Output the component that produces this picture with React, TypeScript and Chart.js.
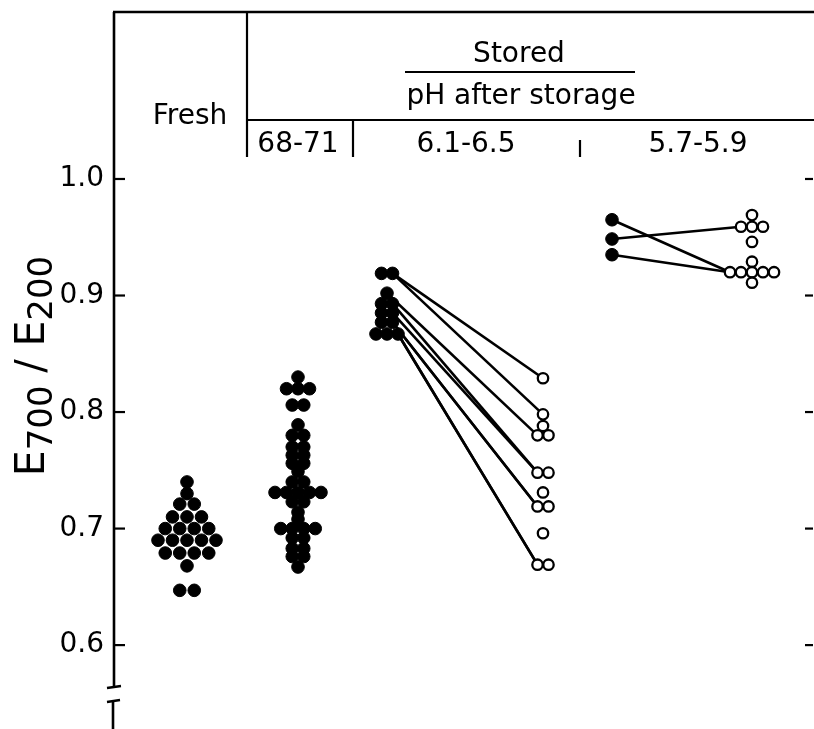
import { useEffect, useRef } from "react";
import { Chart, registerables } from "chart.js";

Chart.register(...registerables);

const FONT = "'DejaVu Sans', 'Liberation Sans', sans-serif";

// Ratio axis
const yTicks = [0.6, 0.7, 0.8, 0.9, 1.0];
const Y_MIN = 0.528;
const Y_MAX = 1.1433;

// Column headings
const freshLabel = "Fresh";
const storedLabel = "Stored";
const phLabel = "pH after storage";
const phGroups = ["68-71", "6.1-6.5", "5.7-5.9"];

// Each row: [E700/E200 value, number of samples at that value]
type Row = [number, number];

const freshRows: Row[] = [
  [0.74, 1], [0.73, 1], [0.721, 2], [0.71, 3], [0.7, 4],
  [0.69, 5], [0.679, 4], [0.668, 1], [0.647, 2],
];

const ph68Rows: Row[] = [
  [0.83, 1], [0.82, 3], [0.806, 2], [0.789, 1], [0.78, 2], [0.77, 2],
  [0.763, 2], [0.756, 2], [0.749, 1], [0.74, 2], [0.731, 5], [0.723, 2],
  [0.714, 1], [0.708, 1], [0.7, 4], [0.692, 2], [0.683, 2], [0.676, 2],
  [0.667, 1],
];

const ph61FreshRows: Row[] = [
  [0.919, 2], [0.902, 1], [0.893, 2], [0.885, 2], [0.877, 2], [0.867, 3],
];
const ph61StoredRows: Row[] = [
  [0.829, 1], [0.798, 1], [0.788, 1], [0.78, 2], [0.748, 2],
  [0.731, 1], [0.719, 2], [0.696, 1], [0.669, 2],
];
// Paired samples (fresh -> stored)
const ph61PairFresh = [0.919, 0.919, 0.902, 0.893, 0.885, 0.877, 0.877, 0.867, 0.867];
const ph61PairStored = [0.829, 0.798, 0.78, 0.748, 0.748, 0.719, 0.719, 0.669, 0.669];

const ph57FreshRows: Row[] = [[0.965, 1], [0.9485, 1], [0.935, 1]];
const ph57StoredRows: Row[] = [
  [0.969, 1], [0.959, 3], [0.946, 1], [0.929, 1], [0.92, 5], [0.911, 1],
];
const ph57PairFresh = [0.965, 0.9485, 0.935];
const ph57PairStored = [0.92, 0.959, 0.92];

// Horizontal layout of the columns (x units of the hidden linear axis)
const X_MAX = 699;
const COL = {
  fresh: { c: 73, gap: 14.5 },
  ph68: { c: 184, gap: 11.5 },
  ph61a: { c: 273, gap: 11 },
  ph61b: { c: 429, gap: 11 },
  ph57a: { c: 498, gap: 11 },
  ph57b: { c: 638, gap: 11 },
};

function rowPoints(col: { c: number; gap: number }, rows: Row[]) {
  const pts: { x: number; y: number }[] = [];
  rows.forEach(([v, n]) => {
    for (let i = 0; i < n; i++) pts.push({ x: col.c + (i - (n - 1) / 2) * col.gap, y: v });
  });
  return pts;
}

function rowEdge(col: { c: number; gap: number }, rows: Row[], v: number, side: number) {
  const r = rows.find(([rv]) => Math.abs(rv - v) < 1e-9);
  const n = r ? r[1] : 1;
  return col.c + side * ((n - 1) / 2) * col.gap;
}

function pairLines(
  colA: { c: number; gap: number }, rowsA: Row[], valsA: number[],
  colB: { c: number; gap: number }, rowsB: Row[], valsB: number[]
) {
  return valsA.map((a, i) => ({
    type: "scatter" as const,
    data: [
      { x: rowEdge(colA, rowsA, a, 1), y: a },
      { x: rowEdge(colB, rowsB, valsB[i], -1), y: valsB[i] },
    ],
    showLine: true,
    borderColor: "#000",
    borderWidth: 2.6,
    pointRadius: 0,
    order: 2,
  }));
}

const filled = {
  backgroundColor: "#000",
  borderColor: "#000",
  borderWidth: 1,
  pointRadius: 6.3,
  order: 0,
};
const open = {
  backgroundColor: "#fff",
  borderColor: "#000",
  borderWidth: 2.3,
  pointRadius: 5.2,
  order: 0,
};

const framePlugin = {
  id: "frame",
  afterDraw(chart: any) {
    const ctx: CanvasRenderingContext2D = chart.ctx;
    const { left, right, top } = chart.chartArea;
    const y = chart.scales.y;
    ctx.save();
    ctx.strokeStyle = "#000";
    ctx.fillStyle = "#000";
    ctx.lineCap = "butt";

    const line = (x1: number, y1: number, x2: number, y2: number, w = 2) => {
      ctx.lineWidth = w;
      ctx.beginPath();
      ctx.moveTo(x1, y1);
      ctx.lineTo(x2, y2);
      ctx.stroke();
    };

    // Heading box
    line(left - 1, top, right + 1, top, 2.4);
    line(247, top, 247, 157, 2.2);
    line(247, 120, right + 1, 120, 2.2);
    line(353, 120, 353, 157, 2.2);
    line(580, 140, 580, 157, 2.2);
    line(405, 72, 635, 72, 2.2);

    // Value axis with break
    line(left, top, left, 686, 2.6);
    line(107, 688, 121, 686, 2.4);
    line(107, 702, 120, 700, 2.4);
    line(left - 1, 701, left - 1, 729, 2.6);

    // Tick marks, inside on the left and on the right edge
    yTicks.forEach((v) => {
      const py = y.getPixelForValue(v);
      line(left, py, left + 11, py, 2.2);
      line(right - 8, py, right, py, 2.2);
    });

    // Heading texts
    ctx.textAlign = "center";
    ctx.textBaseline = "alphabetic";
    ctx.font = `28px ${FONT}`;
    ctx.fillText(freshLabel, 190, 124);
    ctx.fillText(storedLabel, 519, 62);
    ctx.fillText(phLabel, 521, 104);
    ctx.fillText(phGroups[0], 298, 152);
    ctx.fillText(phGroups[1], 466, 152);
    ctx.fillText(phGroups[2], 698, 152);

    // Axis title E700 / E200, rotated
    const parts: [string, number, number][] = [
      ["E", 41, 0],
      ["700", 34, 8],
      [" / ", 40, 0],
      ["E", 41, 0],
      ["200", 34, 8],
    ];
    let total = 0;
    parts.forEach(([t, s]) => {
      ctx.font = `${s}px ${FONT}`;
      total += ctx.measureText(t).width;
    });
    ctx.translate(44, 366);
    ctx.rotate(-Math.PI / 2);
    ctx.textAlign = "left";
    let tx = -total / 2;
    parts.forEach(([t, s, dy]) => {
      ctx.font = `${s}px ${FONT}`;
      ctx.fillText(t, tx, dy);
      tx += ctx.measureText(t).width;
    });
    ctx.restore();
  },
};

export default function App() {
  const ref = useRef<HTMLCanvasElement | null>(null);

  useEffect(() => {
    if (!ref.current) return;
    const chart = new Chart(ref.current, {
      type: "scatter",
      data: {
        datasets: [
          { data: rowPoints(COL.fresh, freshRows), ...filled },
          { data: rowPoints(COL.ph68, ph68Rows), ...filled },
          { data: rowPoints(COL.ph61a, ph61FreshRows), ...filled },
          { data: rowPoints(COL.ph61b, ph61StoredRows), ...open },
          { data: rowPoints(COL.ph57a, ph57FreshRows), ...filled },
          { data: rowPoints(COL.ph57b, ph57StoredRows), ...open },
          ...pairLines(COL.ph61a, ph61FreshRows, ph61PairFresh, COL.ph61b, ph61StoredRows, ph61PairStored),
          ...pairLines(COL.ph57a, ph57FreshRows, ph57PairFresh, COL.ph57b, ph57StoredRows, ph57PairStored),
        ] as any,
      },
      options: {
        animation: false,
        responsive: false,
        devicePixelRatio: 1,
        layout: { autoPadding: false, padding: { top: 12, right: 1, bottom: 0, left: 0 } },
        plugins: { legend: { display: false }, tooltip: { enabled: false } },
        scales: {
          x: { type: "linear", min: 0, max: X_MAX, display: false },
          y: {
            type: "linear",
            position: "left",
            min: Y_MIN,
            max: Y_MAX,
            afterFit: (s: any) => {
              s.width = 114;
              s.paddingTop = 0;
              s.paddingBottom = 0;
            },
            afterBuildTicks: (s: any) => {
              s.ticks = yTicks.map((v) => ({ value: v }));
            },
            grid: { display: false, drawTicks: false },
            border: { display: false },
            ticks: {
              color: "#000",
              padding: 10,
              font: { family: FONT, size: 28 },
              callback: (v: any) => Number(v).toFixed(1),
            },
          },
        },
      },
      plugins: [framePlugin],
    });
    return () => chart.destroy();
  }, []);

  return (
    <div style={{ position: "absolute", left: 0, top: 0, width: 814, height: 729, background: "#fff" }}>
      <canvas ref={ref} width={814} height={729} />
    </div>
  );
}
